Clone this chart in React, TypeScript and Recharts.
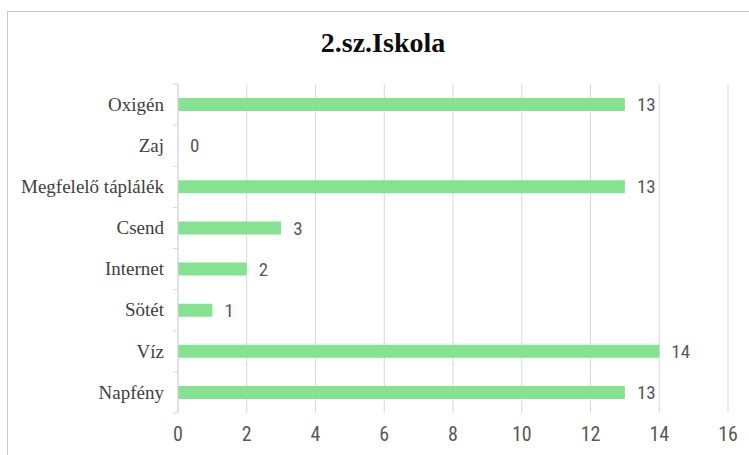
import { BarChart, Bar, XAxis, YAxis, CartesianGrid, LabelList } from 'recharts'

const kategoriak = ['Oxigén', 'Zaj', 'Megfelelő táplálék', 'Csend', 'Internet', 'Sötét', 'Víz', 'Napfény']
const ertekek = [13, 0, 13, 3, 2, 1, 14, 13]
const xTicks = [0, 2, 4, 6, 8, 10, 12, 14, 16]

const data = kategoriak.map((nev, i) => ({ nev, ertek: ertekek[i] }))

const W = 749
const H = 455
const TOP = 84
const BOTTOM = 42
const BAND = (H - TOP - BOTTOM) / kategoriak.length

const narrow = '"Liberation Sans Narrow", "Roboto Condensed", Roboto, sans-serif'
const serif = '"Liberation Serif", "Times New Roman", serif'

function CategoryTick({ x, y, payload, index }: { x?: number; y?: number; payload?: { value: string }; index?: number }) {
  const cx = x ?? 0
  const cy = y ?? 0
  return (
    <g>
      <text x={cx - 8} y={cy} dy="0.33em" textAnchor="end" fontSize={19} fill="#404040" fontFamily={serif}>
        {payload?.value}
      </text>
      {index === 0 && <line x1={cx + 1} x2={cx + 6} y1={cy - BAND / 2} y2={cy - BAND / 2} stroke="#d9d9d9" />}
      <line x1={cx + 1} x2={cx + 6} y1={cy + BAND / 2} y2={cy + BAND / 2} stroke="#d9d9d9" />
    </g>
  )
}

export default function App() {
  return (
    <div style={{ position: 'fixed', left: 0, top: 0, width: W, height: H, overflow: 'hidden', background: '#fff' }}>
      <div style={{ position: 'absolute', left: 7, top: 11, width: 780, height: 480, border: '1px solid #c8c8c8' }} />
      <div style={{ position: 'absolute', left: 0, width: 766, top: 29, textAlign: 'center', lineHeight: '28px',
        fontFamily: serif, fontWeight: 'bold', fontSize: 28, color: '#0d0d0d' }}>
        2.sz.Iskola
      </div>
      <div style={{ position: 'absolute', left: 0, top: 0 }}>
        <BarChart width={W} height={H} data={data} layout="vertical" barSize={13}
          margin={{ top: TOP, right: 21, left: 0, bottom: BOTTOM - 30 }}>
          <CartesianGrid horizontal={false} stroke="#d9d9d9" />
          <XAxis type="number" domain={[0, 16]} ticks={xTicks} axisLine={false} tickLine={false} height={30}
            tickMargin={8} tick={{ fontSize: 20, fill: '#595959', fontFamily: narrow }} />
          <YAxis type="category" dataKey="nev" width={178} axisLine={{ stroke: '#d9d9d9' }} tickLine={false}
            tickSize={6} tickMargin={0} tick={<CategoryTick />} interval={0} />
          <Bar dataKey="ertek" fill="#84e291" isAnimationActive={false} minPointSize={0.001}>
            <LabelList dataKey="ertek" position="right" offset={12} fill="#595959" fontSize={19} fontFamily={narrow} />
          </Bar>
        </BarChart>
      </div>
    </div>
  )
}
